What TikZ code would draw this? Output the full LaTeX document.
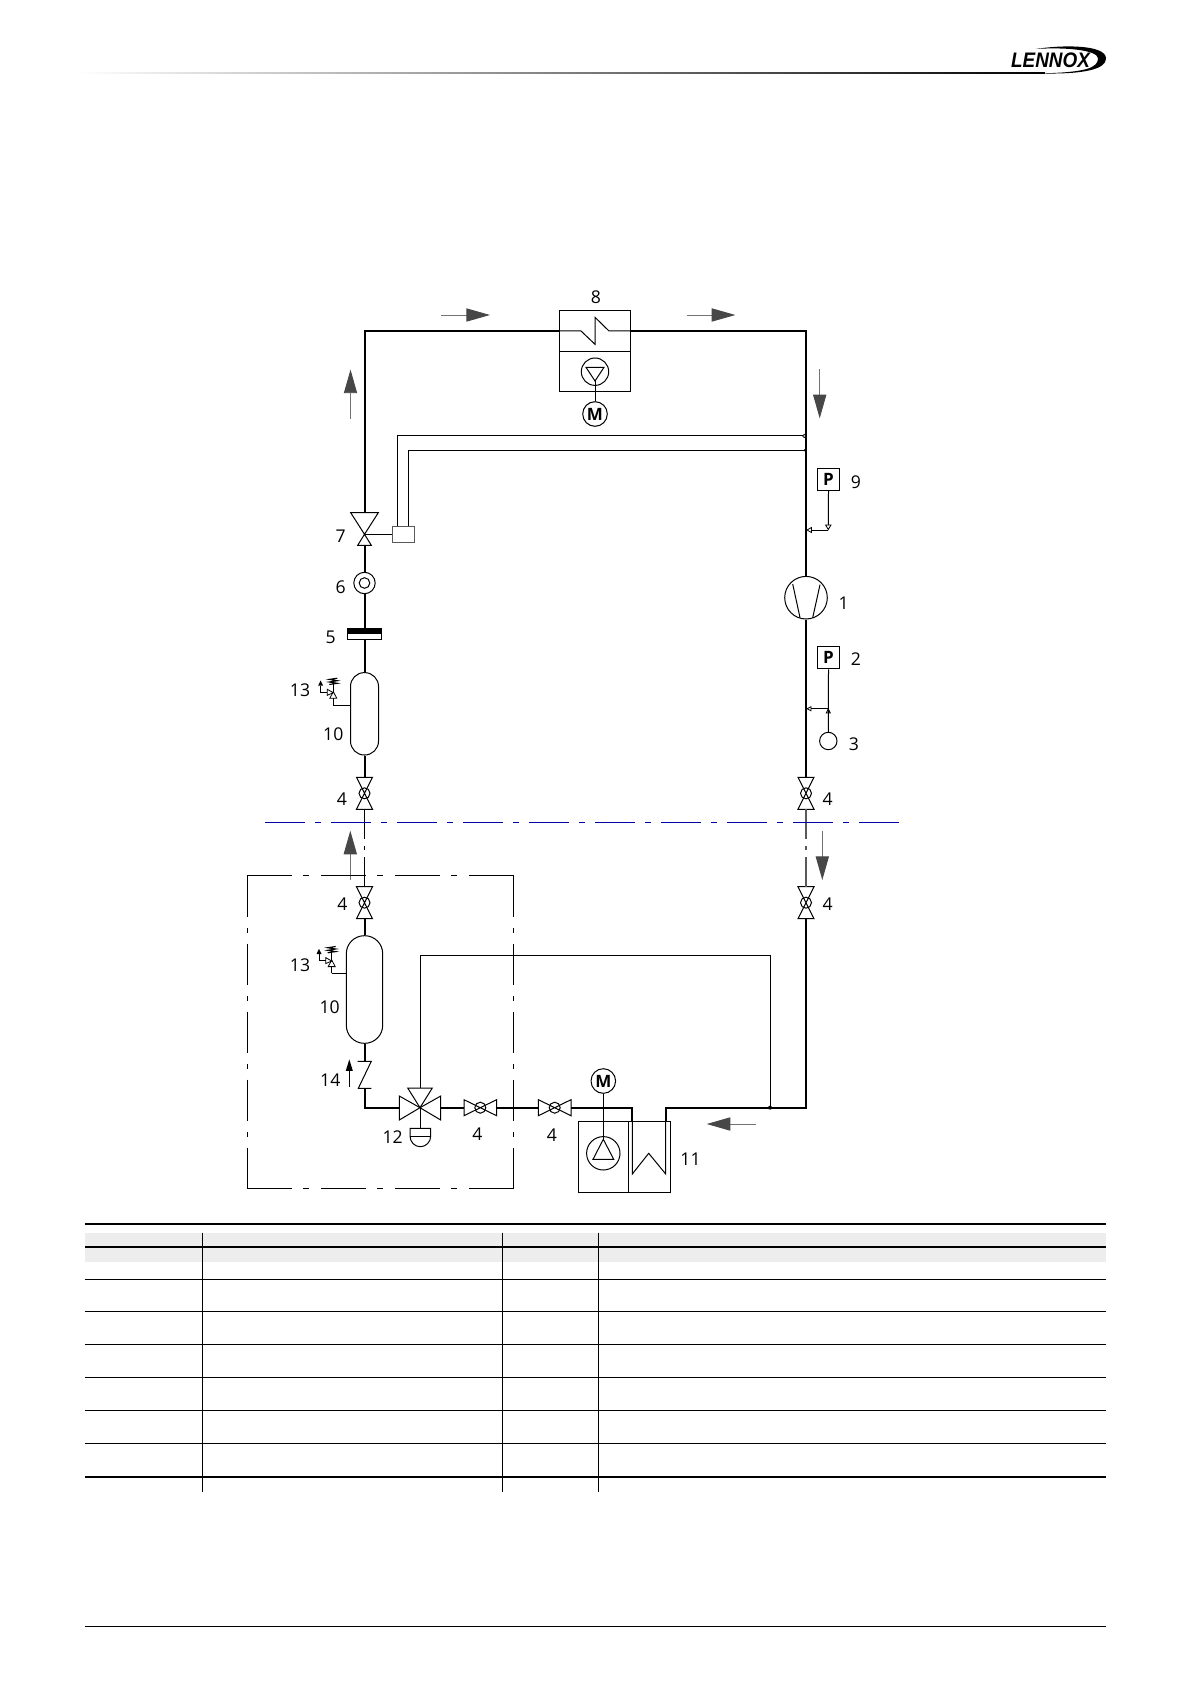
\documentclass[tikz,border=0pt]{standalone}
\usepackage{fontspec}
\setmainfont{Open Sans}
\usetikzlibrary{arrows.meta}

\tikzset{
  pipe/.style={line width=1pt},
  signal/.style={line width=.5pt},
  unit/.style={draw,rectangle,line width=.5pt,inner sep=0pt},
  round/.style={draw,circle,line width=.5pt,inner sep=0pt},
  numlabel/.style={inner sep=0pt,font=\fontsize{8.8}{10}\selectfont},
  bigletter/.style={font=\fontsize{8.5}{9}\selectfont\bfseries},
  flowarrow/.style={draw=black!55,line width=.45pt,
    -{Triangle[length=11.8pt,width=6.6pt,color=black!72]}},
  splitline/.style={line width=.5pt,blue!65!black,
    dash pattern=on 20pt off 5pt on 3pt off 5pt},
  framex/.style={line width=.5pt,dash pattern=on 22.5pt off 5.5pt on 2.8pt off 6.2pt},
  framey/.style={line width=.5pt,dash pattern=on 20.5pt off 5.8pt on 2.5pt off 5.2pt},
  rule/.style={line width=1pt},
}

% shut-off valves, upright and lying
\newcommand{\vvalve}[3]{
  \coordinate (#1t) at (#2,#3-16);
  \coordinate (#1b) at (#2,#3+16);
  \draw[signal] (#2-8,#3-16) -- (#2+8,#3-16) -- (#2-8,#3+16) -- (#2+8,#3+16) -- cycle;
  \node[round,minimum size=5.5pt] (#1c) at (#2,#3) {};
}
\newcommand{\hvalve}[3]{
  \coordinate (#1l) at (#2-16.3,#3);
  \coordinate (#1r) at (#2+16.3,#3);
  \draw[signal] (#2-16.3,#3-8) -- (#2-16.3,#3+8) -- (#2+16.3,#3-8) -- (#2+16.3,#3+8) -- cycle;
  \node[round,minimum size=5.5pt] (#1c) at (#2,#3) {};
}
% relief valve, with its corner next to the tank
\newcommand{\reliefvalve}[3]{
  \coordinate (#1) at (#2,#3);
  \begin{scope}[shift={(#2,#3)},line width=.4pt]
    \draw (0,0) -- (0,-6.7);
    \draw (-3.5,-6.7) -- (3.5,-6.7) -- (0,-13.3) -- cycle;
    \draw (-6,-15.7) -- (-6,-9.7) -- (0,-12.3) -- cycle;
    \draw (-6,-12.7) -- (-12.7,-12.7) -- (-12.7,-19.3);
    \fill (-15.2,-19.3) -- (-10.2,-19.3) -- (-12.7,-24.5) -- cycle;
    \draw (0,-13.3) -- (0,-26.7);
    \draw[line width=.55pt] (-4,-20.5) -- (4,-21.7) -- (-4,-23) -- (4,-24.3) -- (-4,-25.6) -- (4,-26.8);
  \end{scope}
}

\begin{document}
\begin{tikzpicture}[x=.5pt,y=-.5pt]
\useasboundingbox (0,0) rectangle (1191,1684);

% header and logo
\shade[left color=white,right color=black] (76,72.2) rectangle (1045,73.4);
\fill (1036,49) .. controls (1060,45) and (1106,44) .. (1106,58.5)
  .. controls (1106,69) and (1085,74.5) .. (1040,73.4)
  .. controls (1085,72.5) and (1098,68) .. (1098,58.5)
  .. controls (1098,50) and (1065,47) .. (1036,49);
\node[inner sep=0pt,xscale=.9,font=\fontsize{10.5}{11}\fontspec{Liberation Sans}\bfseries\itshape] (logo) at (1050.5,60.5) {LENNOX};
\draw[line width=.5pt] (85.3,1626) -- (1106,1626);

% units and instruments
\node[unit,minimum width=35.5pt,minimum height=20.3pt] (cond8) at (594.8,331) {};
\node[unit,minimum width=35.5pt,minimum height=20.3pt] (fanbox8) at (594.8,371.7) {};
\node[round,minimum size=13.7pt] (fan8) at (595,371.7) {};
\node[round,minimum size=12.3pt,bigletter] (mot8) at (595,414) {M};
\node[unit,minimum width=25pt,minimum height=35.7pt] (fanbox11) at (603.3,1157) {};
\node[unit,minimum width=21.2pt,minimum height=35.7pt] (evap11) at (649.5,1157) {};
\node[round,minimum size=16.7pt] (fan11) at (603.3,1153.3) {};
\node[round,minimum size=12.3pt,bigletter] (mot11) at (603.3,1081) {M};
\node[round,minimum size=21.3pt] (comp1) at (806,597.7) {};
\node[unit,minimum size=11.2pt,bigletter] (press9) at (828.5,479.5) {P};
\node[unit,minimum size=11.2pt,bigletter] (press2) at (828.5,657.7) {P};
\node[round,minimum size=8.7pt] (bulb3) at (828.3,741) {};
\node[unit,draw=black!65,minimum width=11.1pt,minimum height=8.3pt] (head7) at (403.2,534.3) {};
\node[round,minimum size=10.7pt] (glass6o) at (364.5,583) {};
\node[round,minimum size=5.3pt] (glass6i) at (364.5,583) {};
\node[unit,minimum width=17.2pt,minimum height=5.5pt] (filt5) at (364.5,633.8) {};
\fill (347.3,628.3) rectangle (381.7,634.3);
\node[unit,rounded corners=6.9pt,minimum width=14pt,minimum height=41.2pt] (tank10a) at (364.5,713.8) {};
\node[unit,rounded corners=9pt,minimum width=18.2pt,minimum height=53.8pt] (tank10b) at (364.5,989.5) {};

% valves
\vvalve{va}{364.5}{793.3}
\vvalve{vb}{806}{793.3}
\vvalve{vc}{364.5}{902.7}
\vvalve{vd}{806}{902.7}
\hvalve{ve}{480.3}{1107.7}
\hvalve{vf}{554.7}{1107.7}
\coordinate (v7t) at (364.5,512.7);
\coordinate (v7m) at (364.5,534.3);
\coordinate (v7b) at (364.5,545.3);
\draw[signal] (350.7,512.7) -- (378.3,512.7) -- (v7m) -- cycle;
\draw[signal] (357.7,545.3) -- (371.3,545.3) -- (v7m) -- cycle;
\coordinate (v12) at (420,1107.7);
\coordinate (v12l) at (399.3,1107.7);
\coordinate (v12r) at (440.7,1107.7);
\coordinate (v12t) at (420,1088);
\draw[signal] (399.3,1096) -- (399.3,1120) -- (v12) -- cycle;
\draw[signal] (440.7,1096) -- (440.7,1120) -- (v12) -- cycle;
\draw[signal] (407.7,1088) -- (432.3,1088) -- (v12) -- cycle;
\draw[signal] (v12) -- (420,1128.3);
\draw[signal] (410,1128.3) -- (430.7,1128.3) -- (430.7,1136) arc (0:180:10.35 and 10.7) -- cycle;
\draw[signal] (410,1136) -- (430.7,1136);
% check valve
\coordinate (ck14t) at (364.5,1061.3);
\coordinate (ck14b) at (364.5,1088.3);
\draw[signal] (357.7,1061.3) -- (371.3,1061.3) -- (358.3,1088.3) -- (371.3,1088.3);
\reliefvalve{rv1}{333.3}{705}
\reliefvalve{rv2}{331.7}{973.3}

% corners of the circuit
\coordinate (cnl) at (364.5,331);
\coordinate (cnr) at (806,331);
\coordinate (tap1) at (804.3,436);
\coordinate (tap2) at (805,450.3);
\coordinate (dot11) at (770,1107.7);
\coordinate (byp) at (770,955.7);
\coordinate (coilinb) at (632.3,1174);
\coordinate (coilins) at (632.3,1121.3);
\coordinate (coiloutb) at (665.7,1174);
\coordinate (coilouts) at (665.7,1121.3);
\coordinate (lowbend) at (364.5,1107.7);

% refrigerant pipes
\draw[pipe] (v7t) -- (cnl) -- (cond8.west);
\draw[pipe] (cond8.east) -- (cnr) -- (comp1.north);
\draw[pipe] (comp1.south) -- (vbt);
\draw[pipe] (v7b) -- (glass6o.north);
\draw[pipe] (glass6o.south) -- (364.5,628.3);
\draw[pipe] (filt5.south) -- (tank10a.north);
\draw[pipe] (tank10a.south) -- (vat);
\draw[pipe] (vcb) -- (tank10b.north);
\draw[pipe] (tank10b.south) -- (ck14t);
\draw[pipe] (ck14b) -- (lowbend) -- (v12l);
\draw[pipe] (v12r) -- (vel);
\draw[pipe] (ver) -- (vfl);
\draw[pipe] (vfr) -| (coilins);
\draw[pipe] (coilouts) |- (dot11) -| (vdb);
\draw[line width=.7pt,dash pattern=on 15pt off 3.5pt on 2pt off 3.5pt on 30pt] (vab) -- (vct);
\draw[line width=.7pt,black!65,dash pattern=on 15pt off 3.5pt on 2pt off 3.5pt on 30pt] (vbb) -- (vdt);

% thin lines
\draw[signal] (cond8.west) -- (581,331) -- (595,344.3) -- (595,317.3) -- (609,331) -- (cond8.east);
\draw[signal] (586,367.3) -- (604,367.3) -- (595,381) -- cycle;
\draw[signal] (595,381) -- (mot8.north);
\draw[signal] ([xshift=-2.8pt]head7.north) |- (tap1);
\draw[signal] ([xshift=2.4pt]head7.north) |- (tap2);
\draw[line width=.35pt,fill=white] (tap1) circle (1.6);
\fill (tap2) circle (1.4);
\draw[signal] (v7m) -- (head7.west);
\draw[line width=.5pt] (792.7,584) -- (800,617.7);
\draw[line width=.5pt] (820,584.7) -- (812.7,617.7);
\draw[signal] (rv1) -- (rv1 -| tank10a.west);
\draw[signal] (rv2) -- (rv2 -| tank10b.west);
\draw[signal] (v12t) |- (byp) -- (dot11);
\fill (dot11) circle (2);
\draw[signal] (coilins) -- (coilinb) -- (648.7,1153.3) -- (coiloutb) -- (coilouts);
\draw[signal] (593,1159.3) -- (613.7,1159.3) -- (603.3,1139.3) -- cycle;
\draw[signal] (603.3,1139.3) -- (mot11.south);

% pressure lines
\coordinate (sw9) at (828.3,530);
\coordinate (sw2) at (828.3,708.7);
\draw[signal] (press9.south) -- (828.3,525);
\draw[line width=.4pt] (825.6,525) -- (831,525) -- (828.3,529.5) -- cycle;
\draw[signal] (sw9) -- (811,530);
\draw[line width=.4pt] (807,530) -- (811.5,527.5) -- (811.5,532.5) -- cycle;
\draw[signal] (press2.south) -- (bulb3.north);
\draw[line width=.4pt] (826.3,713) -- (830.3,713) -- (828.3,709) -- cycle;
\draw[signal] (sw2) -- (811,708.7);
\draw[line width=.4pt] (807,708.7) -- (811,706.7) -- (811,710.7) -- cycle;

% flow direction
\foreach \n/\xa/\ya/\xb/\yb in {a/441.3/315/490/315,b/686.7/315/735.3/315,c/350.5/418.6/350.5/369.6,
    d/819.7/369.3/819.7/418.3,e/350.3/880/350.3/830.7,f/822.3/831/822.3/880,g/756/1124/706.7/1124}{
  \coordinate (fl\n s) at (\xa,\ya);
  \coordinate (fl\n e) at (\xb,\yb);
  \draw[flowarrow] (fl\n s) -- (fl\n e);
}
\coordinate (fl14s) at (349.3,1086.7);
\coordinate (fl14e) at (349.3,1059.3);
\draw[line width=.5pt,-{Triangle[length=5.8pt,width=3.4pt]}] (fl14s) -- (fl14e);

% split line and frame
\coordinate (spl) at (265,822.3);
\coordinate (spr) at (899,822.3);
\draw[splitline] (spl) -- (spr);
\coordinate (frnw) at (247.3,875.5);
\coordinate (frne) at (513.7,875.5);
\coordinate (frsw) at (247.3,1188.7);
\coordinate (frse) at (513.7,1188.7);
\draw[framex] (frnw) -- (frne);
\draw[framex] (frsw) -- (frse);
\draw[framey] (frnw) -- (frsw);
\draw[framey] (frne) -- (frse);

% numbers
\foreach \n/\t/\x/\y in {a/8/596/297.7,b/9/856/482,c/1/843.7/603.3,d/2/856/659.5,e/3/854/744.7,
    f/7/340.7/536,g/6/340.7/587.7,h/5/330.7/637.7,i/13/300/690,j/10/333.3/734.5,k/4/342/799,
    l/4/827.7/799,m/4/342.3/904,n/4/827.7/904,o/13/300/965,p/10/329.7/1007,
    q/14/330.3/1080.5,r/12/392.7/1137,s/4/477.3/1134.5,t/4/551.8/1134.8,u/11/690.5/1159}{
  \node[numlabel] (lab\n) at (\x,\y) {\t};
}

% table
\fill[black!7] (85.3,1232.7) rectangle (1106,1261.7);
\draw[line width=1.1pt] (85.3,1224) -- (1106,1224);
\draw[rule] (85.3,1246.7) -- (1106,1246.7);
\foreach \y in {1279.3,1311.3,1344.3,1377.3,1410.3,1443.3}{
  \draw[line width=.6pt] (85.3,\y) -- (1106,\y);
}
\draw[line width=1.1pt] (85.3,1476.7) -- (1106,1476.7);
\foreach \x in {202.1,502.7,598.4}{
  \draw[line width=.5pt] (\x,1232.7) -- (\x,1492);
}
\end{tikzpicture}
\end{document}
